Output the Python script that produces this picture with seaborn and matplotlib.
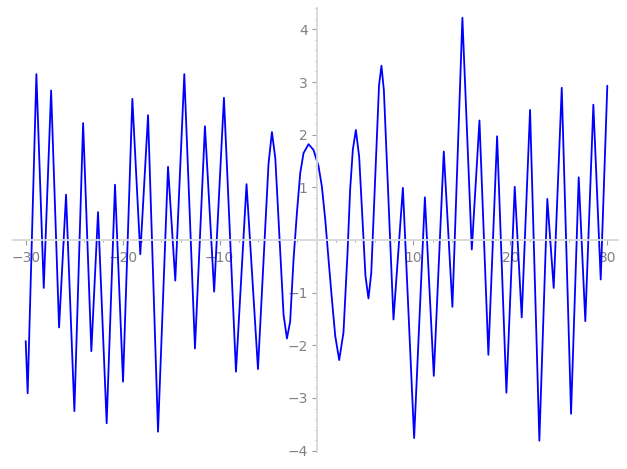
import numpy as np
import pandas as pd
import matplotlib
matplotlib.use("Agg")
import matplotlib.pyplot as plt
from matplotlib.ticker import MultipleLocator, FuncFormatter
import seaborn as sns

# curve (turning points plus a few shoulder points)
x_vals = [-30.0, -29.8, -28.9, -28.14, -27.38, -26.56, -25.84, -24.98, -24.08,
          -23.23, -22.54, -21.65, -20.79, -19.96, -19.0, -18.18, -17.38,
          -16.35, -15.32, -14.57, -13.64, -12.54, -11.51, -10.56, -9.55,
          -8.31, -7.22, -6.04, -4.95, -4.60, -4.25, -3.40, -3.05, -2.72,
          -2.37, -2.02, -1.68, -1.34,
          -0.82, -0.31, 0.21, 0.55, 0.90, 1.24, 1.59, 1.93, 2.34, 2.78,
          3.20, 3.47, 3.75, 4.06, 4.40, 5.05, 5.36, 5.65, 6.45, 6.70, 6.95,
          7.94, 8.91, 10.07, 11.18, 12.10,
          13.13, 14.02, 15.05, 16.02, 16.81, 17.73, 18.63, 19.59, 20.45,
          21.17, 22.03, 22.99, 23.81, 24.47, 25.30, 26.26, 27.05, 27.73,
          28.56, 29.32, 30.0]
y_vals = [-1.92, -2.91, 3.15, -0.91, 2.84, -1.66, 0.86, -3.25, 2.22,
          -2.11, 0.53, -3.48, 1.05, -2.69, 2.68, -0.27, 2.37,
          -3.64, 1.39, -0.77, 3.15, -2.06, 2.16, -0.98, 2.70,
          -2.50, 1.06, -2.45, 1.45, 2.05, 1.55, -1.42, -1.87, -1.55,
          -0.37, 0.52, 1.27, 1.65,
          1.82, 1.71, 1.40, 1.02, 0.39, -0.37, -1.13, -1.82, -2.28, -1.76,
          -0.24, 0.96, 1.72, 2.09, 1.58, -0.68, -1.11, -0.62, 2.94, 3.31, 2.84,
          -1.51, 0.99, -3.76, 0.81, -2.58,
          1.68, -1.27, 4.22, -0.18, 2.27, -2.18, 1.97, -2.90, 1.01,
          -1.47, 2.47, -3.81, 0.78, -0.91, 2.89, -3.30, 1.19, -1.54,
          2.57, -0.75, 2.93]

x_ticks = [-30, -20, -10, 10, 20, 30]
y_ticks = [-4, -3, -2, -1, 1, 2, 3, 4]

AXIS_GRAY = '#d8d8d8'
TICK_GRAY = '#9a9a9a'
LABEL_GRAY = '#808080'

df = pd.DataFrame({'x': x_vals, 'y': y_vals})

sns.set_style("white")
plt.rcParams['font.family'] = ['DejaVu Sans']

fig = plt.figure(figsize=(6.27, 4.69), dpi=100)
ax = fig.add_axes([0.0203, 0.0369, 0.9653, 0.9454])

sns.lineplot(data=df, x='x', y='y', ax=ax, color='#0000ff',
             linewidth=1.3, estimator=None, sort=False)
ax.lines[0].set_solid_joinstyle('round')

ax.set_xlim(-31.34, 31.1)
ax.set_ylim(-4.02, 4.4)

# axes through the origin, sage style
for side in ['top', 'right']:
    ax.spines[side].set_visible(False)
ax.spines['left'].set_position(('data', 0))
ax.spines['bottom'].set_position(('data', 0))
for side in ['left', 'bottom']:
    ax.spines[side].set_color(AXIS_GRAY)
    ax.spines[side].set_linewidth(1.3)

ax.set_xticks(x_ticks)
ax.set_yticks(y_ticks)
ax.xaxis.set_minor_locator(MultipleLocator(2))
ax.yaxis.set_minor_locator(MultipleLocator(0.2))
fmt = FuncFormatter(lambda v, p: f"{v:g}".replace('-', '\u2212'))
ax.xaxis.set_major_formatter(fmt)
ax.yaxis.set_major_formatter(fmt)

ax.tick_params(axis='both', which='both', bottom=True, left=True,
               top=False, right=False)
ax.tick_params(axis='both', which='major', direction='out', length=3.4,
               width=0.8, color=TICK_GRAY, labelcolor=LABEL_GRAY,
               labelsize=10)
ax.tick_params(axis='both', which='minor', direction='out', length=1.7,
               width=0.6, color=TICK_GRAY)
ax.tick_params(axis='x', which='major', pad=4.5)
ax.tick_params(axis='y', which='major', pad=3)

ax.set_xlabel('')
ax.set_ylabel('')
ax.grid(False)

plt.savefig('out.png', dpi=100)
plt.close()
